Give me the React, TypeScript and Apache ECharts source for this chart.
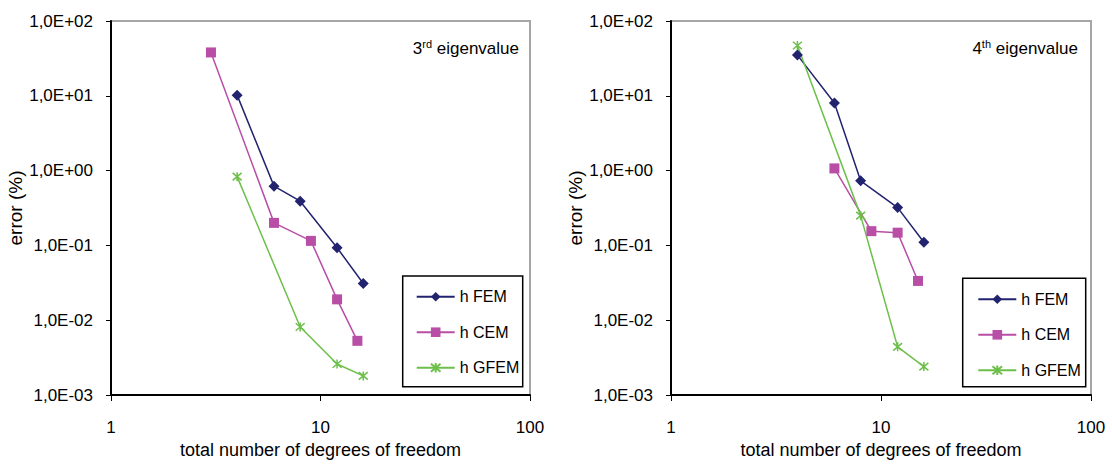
import React, { useEffect, useRef } from "react";
import * as echarts from "echarts";

// 3rd eigenvalue
const dofFEM3 = [4, 6, 8, 12, 16];
const errFEM3 = [10.2, 0.62, 0.39, 0.093, 0.031];
const dofCEM3 = [3, 6, 9, 12, 15];
const errCEM3 = [38, 0.2, 0.115, 0.019, 0.0053];
const dofGFEM3 = [4, 8, 12, 16];
const errGFEM3 = [0.83, 0.0081, 0.0026, 0.0018];

// 4th eigenvalue
const dofFEM4 = [4, 6, 8, 12, 16];
const errFEM4 = [35, 8.0, 0.73, 0.32, 0.11];
const dofCEM4 = [6, 9, 12, 15];
const errCEM4 = [1.07, 0.155, 0.148, 0.0335];
const dofGFEM4 = [4, 8, 12, 16];
const errGFEM4 = [47, 0.25, 0.0044, 0.0024];

const seriesNames = ["h FEM", "h CEM", "h GFEM"];
const xTicks = [1, 10, 100];
const yMin = 0.001;
const yMax = 100;

const FONT = "'Liberation Sans', Arial, sans-serif";
const C_FEM = "#22236f";
const C_CEM = "#b84ea6";
const C_GFEM = "#6cbf48";
const ASTERISK = "path://M0,0L10,10M10,0L0,10M5,-1L5,11";

const zip = (xs: number[], ys: number[]) => xs.map((x, i) => [x, ys[i]]);

const yFmt = (v: number) => {
  const e = Math.round(Math.log10(v));
  return "1,0E" + (e < 0 ? "-" : "+") + String(Math.abs(e)).padStart(2, "0");
};

export default function App() {
  const ref = useRef<HTMLDivElement>(null);
  useEffect(() => {
    if (!ref.current) return;
    const chart = echarts.init(ref.current, undefined, { renderer: "svg" });
    const grids = [
      { left: 111, top: 21, width: 419, height: 374 },
      { left: 671, top: 21, width: 420, height: 374 },
    ];
    const mkX = (gi: number) => ({
      type: "log",
      logBase: 10,
      gridIndex: gi,
      min: xTicks[0],
      max: xTicks[xTicks.length - 1],
      name: "total number of degrees of freedom",
      nameLocation: "middle",
      nameGap: 46,
      nameTextStyle: { fontFamily: FONT, fontSize: 18, color: "#000" },
      axisLine: { show: true, lineStyle: { color: "#000", width: 2 } },
      axisTick: { show: true, inside: false, length: 6, lineStyle: { color: "#000", width: 1 } },
      minorTick: { show: false },
      splitLine: { show: false },
      axisLabel: { fontFamily: FONT, fontSize: 17, color: "#000", margin: 24, formatter: (v: number) => String(Math.round(v)) },
    });
    const mkY = (gi: number) => ({
      type: "log",
      logBase: 10,
      gridIndex: gi,
      min: yMin,
      max: yMax,
      name: "error (%)",
      nameLocation: "middle",
      nameRotate: 90,
      nameGap: 82,
      nameTextStyle: { fontFamily: FONT, fontSize: 19, color: "#000" },
      axisLine: { show: true, lineStyle: { color: "#000", width: 2 } },
      axisTick: { show: true, inside: false, length: 5, lineStyle: { color: "#000", width: 1 } },
      minorTick: { show: false },
      splitLine: { show: false },
      axisLabel: { fontFamily: FONT, fontSize: 17, color: "#000", margin: 18, formatter: yFmt },
    });
    const mkSeries = (gi: number, d: number[][][]) => [
      {
        name: seriesNames[0], type: "line", xAxisIndex: gi, yAxisIndex: gi, data: d[0],
        symbol: "diamond", symbolSize: 11,
        lineStyle: { color: C_FEM, width: 1.5 }, itemStyle: { color: C_FEM },
      },
      {
        name: seriesNames[1], type: "line", xAxisIndex: gi, yAxisIndex: gi, data: d[1],
        symbol: "rect", symbolSize: 10,
        lineStyle: { color: C_CEM, width: 1.5 }, itemStyle: { color: C_CEM },
      },
      {
        name: seriesNames[2], type: "line", xAxisIndex: gi, yAxisIndex: gi, data: d[2],
        symbol: ASTERISK, symbolSize: 9,
        lineStyle: { color: C_GFEM, width: 1.5 },
        itemStyle: { color: C_GFEM, borderColor: C_GFEM, borderWidth: 1.5 },
      },
    ];
    const legendCommon = {
      orient: "vertical",
      padding: 0,
      itemWidth: 38,
      itemHeight: 12,
      itemGap: 15.5,
      selectedMode: false,
      data: seriesNames,
      textStyle: { fontFamily: FONT, fontSize: 16, color: "#000", lineHeight: 20 },
    };
    const titleRich = {
      a: { fontFamily: FONT, fontSize: 17, fontWeight: "normal", color: "#000", lineHeight: 20 },
      b: { fontFamily: FONT, fontSize: 11, fontWeight: "normal", color: "#000", lineHeight: 12, verticalAlign: "top" },
    };
    chart.setOption({
      animation: false,
      backgroundColor: "#fff",
      grid: grids.map((g) => ({ ...g, show: true, borderColor: "#a6a6a6", borderWidth: 2, backgroundColor: "transparent" })),
      xAxis: [mkX(0), mkX(1)],
      yAxis: [mkY(0), mkY(1)],
      title: [
        { text: "{a|3}{b|rd}{a| eigenvalue}", right: 593, top: 38, padding: 0, textStyle: { fontWeight: "normal", rich: titleRich } },
        { text: "{a|4}{b|th}{a| eigenvalue}", right: 34, top: 38, padding: 0, textStyle: { fontWeight: "normal", rich: titleRich } },
      ],
      legend: [
        { ...legendCommon, left: 415.7, top: 286.7 },
        { ...legendCommon, left: 977.3, top: 289.3 },
      ],
      graphic: [
        { type: "rect", shape: { x: 402.7, y: 276, width: 120, height: 110.7 }, style: { fill: "none", stroke: "#000", lineWidth: 1.5 }, z: 100 },
        { type: "rect", shape: { x: 962.7, y: 278.3, width: 123, height: 108.4 }, style: { fill: "none", stroke: "#000", lineWidth: 1.5 }, z: 100 },
      ],
      series: [
        ...mkSeries(0, [zip(dofFEM3, errFEM3), zip(dofCEM3, errCEM3), zip(dofGFEM3, errGFEM3)]),
        ...mkSeries(1, [zip(dofFEM4, errFEM4), zip(dofCEM4, errCEM4), zip(dofGFEM4, errGFEM4)]),
      ],
    });
    return () => chart.dispose();
  }, []);
  return (
    <div
      ref={ref}
      style={{ position: "absolute", left: 0, top: 0, width: 1112, height: 465, background: "#fff" }}
    />
  );
}
